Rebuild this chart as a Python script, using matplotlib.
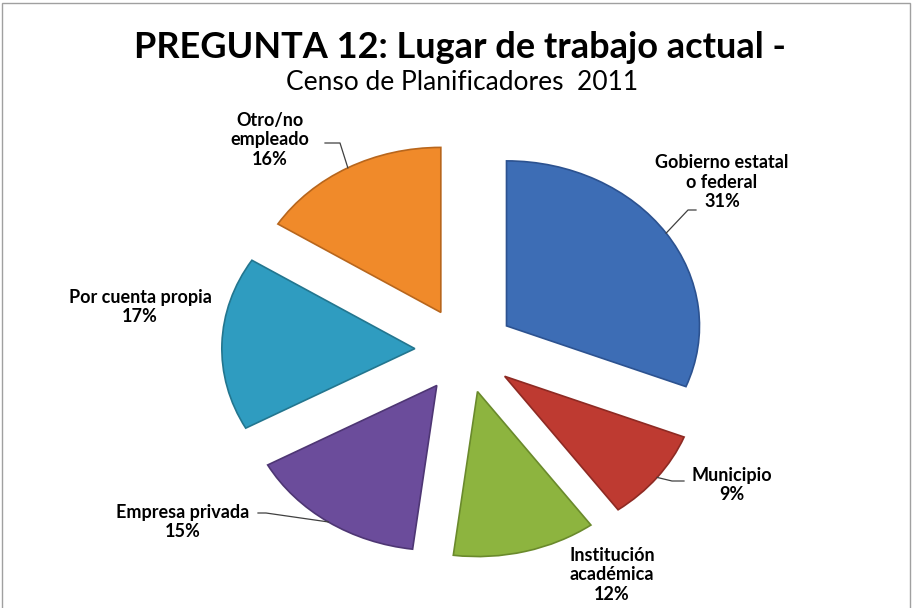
import numpy as np
import matplotlib.pyplot as plt
from matplotlib.patches import Rectangle
from matplotlib.lines import Line2D

# data
categorias = ['Gobierno estatal\no federal', 'Municipio', 'Institución\nacadémica',
              'Empresa privada', 'Por cuenta propia', 'Otro/no\nempleado']
porcentajes = [31, 9, 12, 15, 17, 16]
colores = ['#3D6DB5', '#BE3A31', '#8DB43F', '#6B4C9B', '#2F9CC0', '#F08A2A']
bordes = ['#2C5290', '#8E2A23', '#6A8A2C', '#4E3674', '#23768F', '#B8661C']

W, H = 913, 608
fig = plt.figure(figsize=(W / 100, H / 100), dpi=100, facecolor='white')
ax = fig.add_axes([0, 0, 1, 1])

# pie is slightly stretched horizontally in the original
cx_px, cy_px = 465, 350
rx_px, ry_px = 193, 165

wedges, _ = ax.pie(porcentajes, colors=colores, startangle=90, counterclock=False,
                   explode=[0.26] * len(porcentajes), radius=1,
                   wedgeprops=dict(linewidth=1.2))
for w, b in zip(wedges, bordes):
    w.set_edgecolor(b)

ax.set_aspect('auto')
ax.set_xlim((0 - cx_px) / rx_px, (W - cx_px) / rx_px)
ax.set_ylim((cy_px - H) / ry_px, cy_px / ry_px)
ax.axis('off')

fuente = 'Lato'

# title
fig.text(460 / W, 1 - 47 / H, 'PREGUNTA 12: Lugar de trabajo actual -', ha='center', va='center',
         fontsize=26, fontweight='bold', family=fuente, color='black')
fig.text(462 / W, 1 - 82 / H, 'Censo de Planificadores  2011', ha='center', va='center',
         fontsize=19, fontweight='normal', family=fuente, color='black')

# label text positions (image pixels) and leader elbows
pos_texto = [(722, 182), (732, 485), (612, 575), (183, 522), (140, 307), (270, 140)]
guias = [[(688, 210), (696, 210)],
         [(672, 481), (684, 481)],
         None,
         [(266, 513), (258, 513)],
         None,
         [(340, 143), (325, 143)]]

for i, w in enumerate(wedges):
    tx, ty = pos_texto[i]
    fig.text(tx / W, 1 - ty / H, f'{categorias[i]}\n{porcentajes[i]}%', ha='center', va='center',
             fontsize=13, fontweight='bold', family=fuente, color='black', linespacing=1.2)
    if guias[i] is None:
        continue
    ang = np.deg2rad((w.theta1 + w.theta2) / 2)
    xa = w.center[0] + w.r * np.cos(ang)
    ya = w.center[1] + w.r * np.sin(ang)
    dx, dy = ax.transData.transform((xa, ya))
    xs = [dx] + [p[0] for p in guias[i]]
    ys = [dy] + [H - p[1] for p in guias[i]]
    fig.add_artist(Line2D(xs, ys, transform=None, color='#404040', lw=0.9))

# outer border of the chart area
fig.add_artist(Rectangle((2 / W, -0.01), 908 / W, 1 - 3 / H + 0.01, transform=fig.transFigure,
                         fill=False, edgecolor='#A0A0A0', lw=1))

fig.savefig('out.png', dpi=100, facecolor='white')
